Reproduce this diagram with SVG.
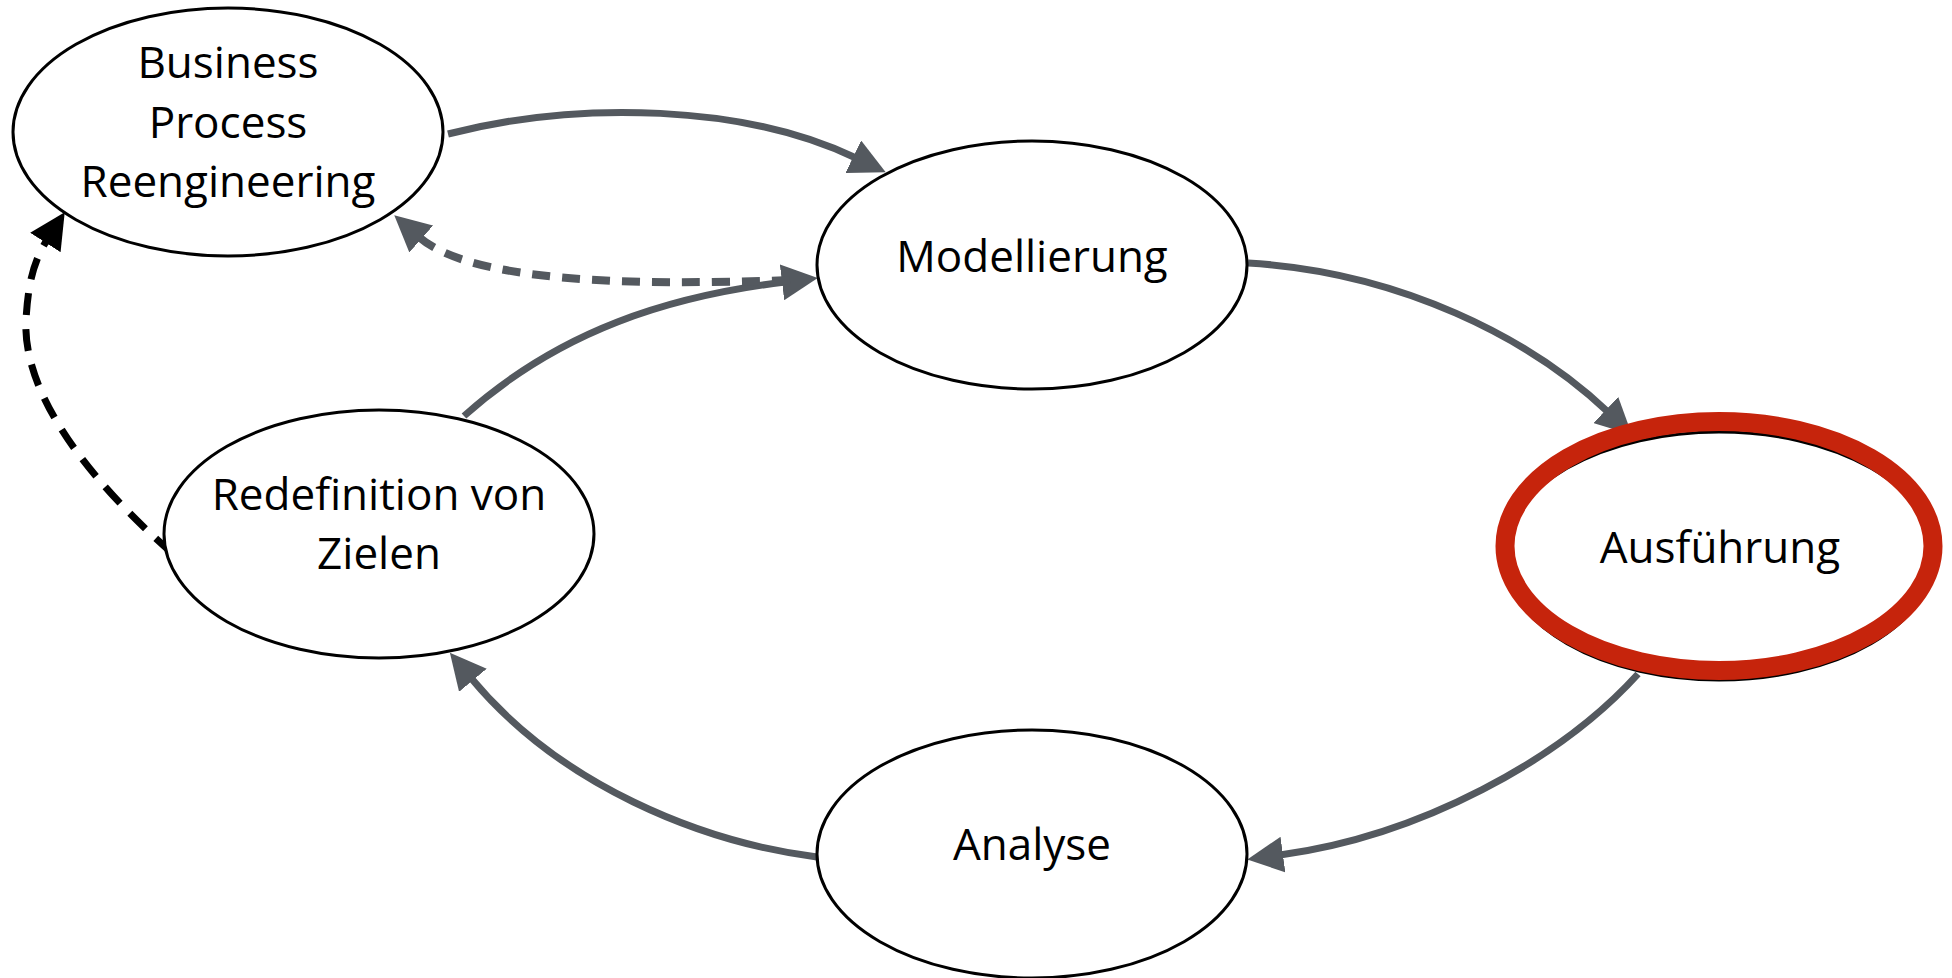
<svg xmlns="http://www.w3.org/2000/svg" width="1952" height="978" viewBox="0 0 1952 978">
<style>
.node{fill:#fff;stroke:#000;stroke-width:3}
.lbl{font-family:"Open Sans","Liberation Sans",sans-serif;font-size:44px;fill:#000;text-anchor:middle}
.flow{fill:none;stroke:#54595f;stroke-width:7}
.dash{fill:none;stroke:#54595f;stroke-width:8;stroke-dasharray:18 12}
.bdash{fill:none;stroke:#000;stroke-width:7;stroke-dasharray:22 14}
</style>
<defs>
<marker id="ag" markerUnits="userSpaceOnUse" viewBox="0 0 36 36" refX="3" refY="18" markerWidth="36" markerHeight="36" orient="auto">
<path d="M0,0 L36,18 L0,36 z" fill="#54595f"/>
</marker>
<marker id="ab" markerUnits="userSpaceOnUse" viewBox="0 0 36 36" refX="3" refY="18" markerWidth="36" markerHeight="36" orient="auto">
<path d="M0,0 L36,18 L0,36 z" fill="#000"/>
</marker>
</defs>
<rect width="1952" height="978" fill="#fff"/>
<g id="connectors">
<path class="flow" d="M448,134 C 580,100 746,105 856,158" marker-end="url(#ag)"/>
<path class="flow" d="M1248,263 C 1400,272 1530,338 1608,412" marker-end="url(#ag)"/>
<path class="flow" d="M1638,674 C 1560,760 1420,836 1280,855" marker-end="url(#ag)"/>
<path class="flow" d="M817,857 C 700,842 560,785 471,678" marker-end="url(#ag)"/>
<path class="flow" d="M464,416 C 560,330 670,296 785,282" marker-end="url(#ag)"/>
<path class="dash" d="M790,280 C 630,286 470,282 419,237" marker-end="url(#ag)"/>
<path class="bdash" d="M172,553 C 100,490 22,400 26,320 C 28,285 33,262 47,240" marker-end="url(#ab)"/>
</g>
<g id="node-bpr">
<ellipse class="node" cx="228" cy="132" rx="215" ry="124"/>
<text class="lbl" x="228" y="78">Business</text>
<text class="lbl" x="228" y="138">Process</text>
<text class="lbl" x="228" y="197">Reengineering</text>
</g>
<g id="node-modellierung">
<ellipse class="node" cx="1032" cy="265" rx="215" ry="124"/>
<text class="lbl" x="1032" y="272">Modellierung</text>
</g>
<g id="node-ausfuehrung">
<ellipse class="node" cx="1719" cy="556" rx="215" ry="124"/>
<ellipse cx="1719" cy="546" rx="214" ry="124.5" fill="none" stroke="#c6240c" stroke-width="19"/>
<text class="lbl" x="1720" y="563">Ausführung</text>
</g>
<g id="node-analyse">
<ellipse class="node" cx="1032" cy="854" rx="215" ry="124"/>
<text class="lbl" x="1032" y="860">Analyse</text>
</g>
<g id="node-redefinition">
<ellipse class="node" cx="379" cy="534" rx="215" ry="124"/>
<text class="lbl" x="379" y="510">Redefinition von</text>
<text class="lbl" x="379" y="569">Zielen</text>
</g>
</svg>
